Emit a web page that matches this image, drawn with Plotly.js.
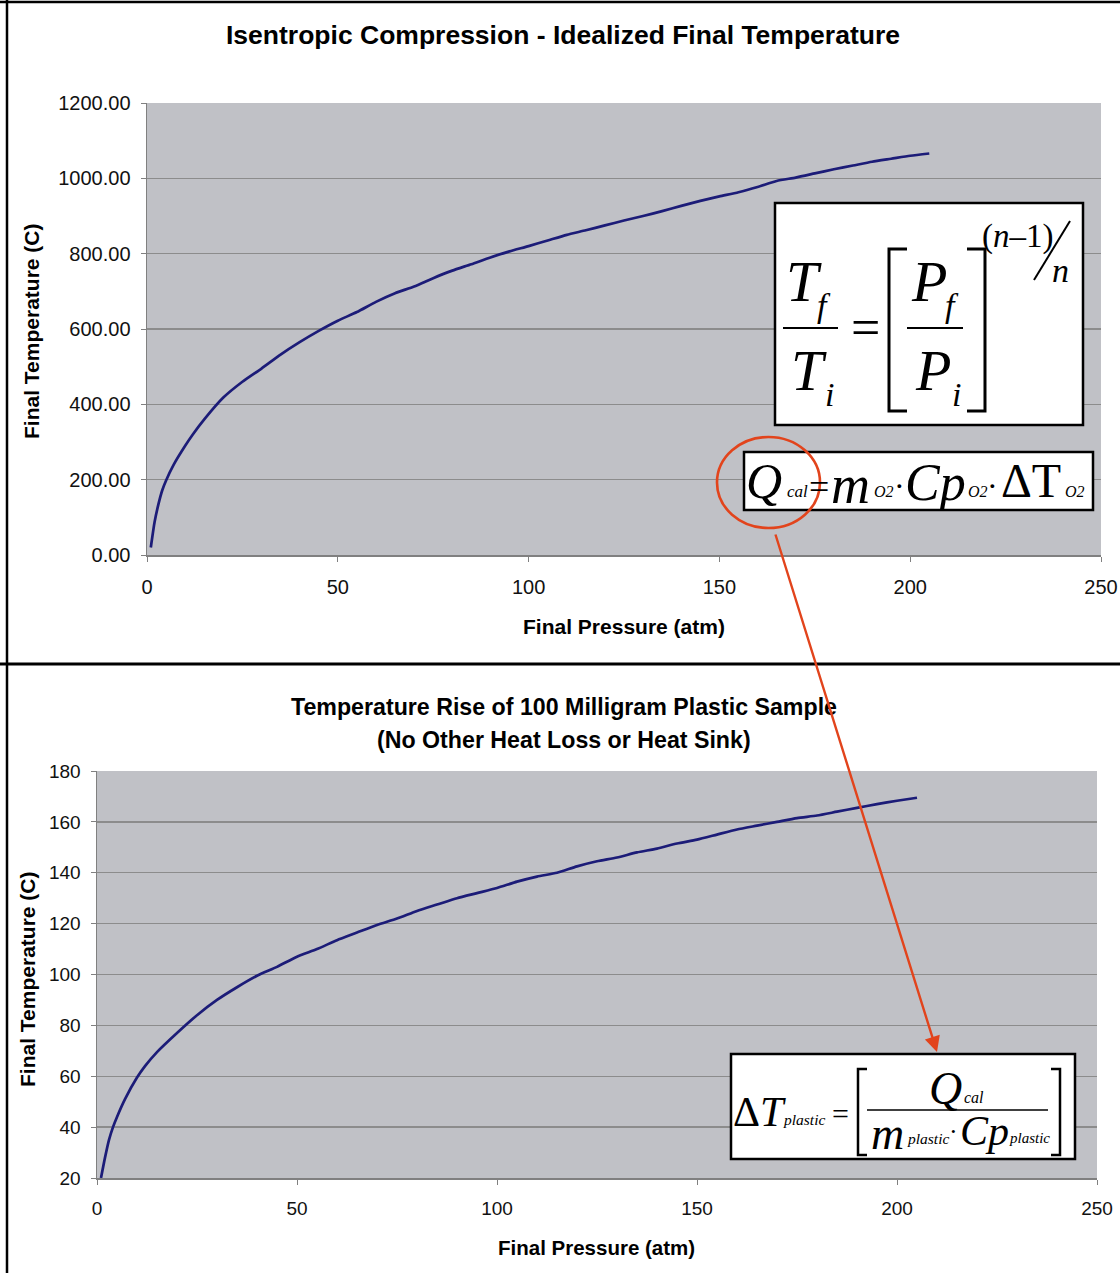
<!DOCTYPE html>
<html>
<head>
<meta charset="utf-8">
<script src="https://cdn.plot.ly/plotly-3.0.1.min.js"></script>
<style>html,body{margin:0;padding:0;background:#fff}#chart{width:1120px;height:1273px}</style>
</head>
<body>
<div id="chart"></div>
<script>
// ---- data ----
const topPressure = [1,2,3,4,5,7,10,12,15,20,25,30,35,40,45,50,55,60,65,70,75,80,85,90,95,100,105,110,115,120,125,130,135,140,145,150,155,160,165,170,175,180,185,190,195,200,205];
const topTemp     = [20,88,135,172,198,240,290,320,360,418,460,495,532,565,595,622,645,672,695,713,735,755,772,790,806,820,835,850,862,875,888,900,913,927,940,952,963,977,993,1002,1013,1024,1034,1044,1052,1060,1066];
const botPressure = [1,2,3,4,5,7,10,12,15,20,25,30,35,40,45,50,55,60,65,70,75,80,85,90,95,100,105,110,115,120,125,130,135,140,145,150,155,160,165,170,175,180,185,190,195,200,205];
const botTemp     = [20,28,35,40,44,51,59.5,64,69.5,77,84,90,95,99.5,103,107,110,113.5,116.5,119.5,122,125,127.5,130,132,134,136.5,138.5,140,142.5,144.5,146,148,149.5,151.5,153,155,157,158.5,160,161.5,162.5,164,165.5,167,168.3,169.5];
const topYTicks = [0,200,400,600,800,1000,1200];
const botYTicks = [20,40,60,80,100,120,140,160,180];
const xTicks = [0,50,100,150,200,250];
const topTitle = "Isentropic Compression - Idealized Final Temperature";
const botTitle1 = "Temperature Rise of 100 Milligram Plastic Sample";
const botTitle2 = "(No Other Heat Loss or Heat Sink)";
const xTitle = "Final Pressure (atm)";
const yTitle = "Final Temperature (C)";

// ---- layout helpers ----
const W = 1120, H = 1273;
const fx = x => x / W;
const fy = y => 1 - y / H;
const SANS = "Liberation Sans, Arial, sans-serif";
const SERIF = "Liberation Serif, Times New Roman, serif";
const navy = "#1c1c78";
const red = "#e2441c";

const traces = [
  {x: topPressure, y: topTemp, type: "scatter", mode: "lines", line: {color: navy, width: 2.7, shape: "spline", smoothing: 0.6}, xaxis: "x", yaxis: "y", hoverinfo: "skip", showlegend: false},
  {x: botPressure, y: botTemp, type: "scatter", mode: "lines", line: {color: navy, width: 2.7, shape: "spline", smoothing: 0.6}, xaxis: "x2", yaxis: "y2", hoverinfo: "skip", showlegend: false}
];

function axisX(domain, anchor, fs) {
  return {domain: domain, anchor: anchor, range: [0, 250], tickvals: xTicks, ticktext: xTicks.map(String),
    ticks: "outside", ticklen: 5, tickcolor: "#808080", showline: true, linecolor: "#808080", linewidth: 1.5,
    showgrid: false, zeroline: false, fixedrange: true, ticklabelstandoff: 8,
    tickfont: {family: SANS, size: fs, color: "#111"}};
}
function axisY(domain, anchor, range, vals, fmt, fs) {
  return {domain: domain, anchor: anchor, range: range, tickvals: vals, tickformat: fmt,
    ticks: "outside", ticklen: 5, tickcolor: "#808080", showline: true, linecolor: "#808080", linewidth: 1.5,
    showgrid: true, gridcolor: "#8c8c8c", gridwidth: 1.4, zeroline: false, fixedrange: true, ticklabelstandoff: 6,
    tickfont: {family: SANS, size: fs, color: "#111"}};
}

const annotations = [];
function txt(text, x, y, size, opts) {
  opts = opts || {};
  annotations.push(Object.assign({
    text: text, x: fx(x), y: fy(y), xref: "paper", yref: "paper", showarrow: false,
    xanchor: "center", yanchor: "middle",
    font: {family: opts.family || SERIF, size: size, color: "#000", weight: opts.weight || 400, style: opts.italic ? "italic" : "normal"}
  }, opts.extra || {}));
}

// titles
txt(topTitle, 563, 35, 26.5, {family: SANS, weight: 700});
txt(xTitle, 624, 626, 21, {family: SANS, weight: 700});
txt(yTitle, 31, 332, 21, {family: SANS, weight: 700, extra: {textangle: -90}});
txt(botTitle1, 564, 707, 23.2, {family: SANS, weight: 700});
txt(botTitle2, 564, 740, 23.2, {family: SANS, weight: 700});
txt(xTitle, 596, 1247, 20.5, {family: SANS, weight: 700});
txt(yTitle, 27, 980, 21, {family: SANS, weight: 700, extra: {textangle: -90}});

const shapes = [];
function rect(x0, y0, x1, y1) {
  shapes.push({type: "rect", xref: "paper", yref: "paper", x0: fx(x0), x1: fx(x1), y0: fy(y1), y1: fy(y0),
    fillcolor: "#ffffff", line: {color: "#000", width: 2.5}, layer: "above"});
}
function line(x0, y0, x1, y1, w, c) {
  shapes.push({type: "line", xref: "paper", yref: "paper", x0: fx(x0), x1: fx(x1), y0: fy(y0), y1: fy(y1),
    line: {color: c || "#000", width: w || 2}, layer: "above"});
}
function path(pts, w) {
  const d = pts.map((p, i) => (i ? "L" : "M") + fx(p[0]).toFixed(5) + "," + fy(p[1]).toFixed(5)).join(" ");
  shapes.push({type: "path", xref: "paper", yref: "paper", path: d, line: {color: "#000", width: w || 2.5}, layer: "above"});
}

// frame lines
line(7, 0, 7, H, 2.5);
line(0, 2, W, 2, 2.5);
line(0, 664, W, 664, 3);

// formula box 1: Tf/Ti = [Pf/Pi]^((n-1)/n)
rect(775, 203, 1083, 425);
txt("T", 804, 281, 58, {italic: true});
txt("f", 824, 306, 34, {italic: true});
line(783, 328, 838, 328, 2);
txt("T", 809, 371, 58, {italic: true});
txt("i", 829, 394, 34, {italic: true});
txt("=", 865, 328, 52);
path([[907, 249], [889, 249], [889, 411], [907, 411]], 3);
path([[967, 249], [985, 249], [985, 411], [967, 411]], 3);
txt("P", 929, 281, 58, {italic: true});
txt("f", 952, 305, 34, {italic: true});
line(907, 328, 963, 328, 2);
txt("P", 933, 371, 58, {italic: true});
txt("i", 956, 394, 34, {italic: true});
txt("(<i>n</i>\u20131)", 1018, 236, 33);
line(1034, 280, 1070, 221, 2);
txt("n", 1060, 270, 34, {italic: true});

// formula box 2: Qcal = mO2·CpO2·ΔTO2
rect(744, 452, 1093, 510);
txt("Q", 764, 481, 50, {italic: true});
txt("cal", 797, 492, 17, {italic: true});
txt("=", 819, 487, 36);
txt("m", 850, 485, 54, {italic: true});
txt("O2", 884, 492, 16, {italic: true});
txt("\u00b7", 899, 486, 32);
txt("Cp", 935, 483, 52, {italic: true});
txt("O2", 978, 492, 16, {italic: true});
txt("\u00b7", 992, 486, 32);
txt("\u0394T", 1031, 480, 48);
txt("O2", 1075, 492, 16, {italic: true});

// red ellipse and arrow
shapes.push({type: "circle", xref: "paper", yref: "paper", x0: fx(717), x1: fx(820), y0: fy(528), y1: fy(437),
  line: {color: red, width: 2.6}, layer: "above"});
annotations.push({x: fx(937), y: fy(1052), xref: "paper", yref: "paper", ax: 775 - 937, ay: 533 - 1052,
  axref: "pixel", ayref: "pixel", showarrow: true, arrowhead: 2, arrowsize: 1.3, arrowwidth: 2.4, arrowcolor: red, text: ""});

// formula box 3: ΔTplastic = [ Qcal / (mplastic·Cpplastic) ]
rect(731, 1054, 1075, 1159);
txt("\u0394<i>T</i>", 759, 1112, 42);
txt("plastic", 804, 1119, 15.5, {italic: true});
txt("=", 840, 1113, 30);
path([[867, 1069], [858, 1069], [858, 1155], [867, 1155]], 2.5);
path([[1051, 1069], [1060, 1069], [1060, 1155], [1051, 1155]], 2.5);
txt("Q", 945, 1088, 46, {italic: true});
txt("cal", 974, 1097, 16, {italic: true});
line(867, 1110, 1048, 1110, 1.6);
txt("m", 887, 1133, 46, {italic: true});
txt("plastic", 928, 1138, 15.5, {italic: true});
txt("\u00b7", 953, 1131, 26);
txt("Cp", 984, 1131, 42, {italic: true});
txt("plastic", 1029, 1138, 15, {italic: true});

const layout = {
  width: W, height: H, autosize: false,
  margin: {l: 0, r: 0, t: 0, b: 0, pad: 0},
  paper_bgcolor: "#ffffff", plot_bgcolor: "#c0c1c6",
  showlegend: false,
  xaxis: axisX([fx(147), fx(1101)], "y", 20),
  yaxis: axisY([fy(555), fy(103)], "x", [0, 1200], topYTicks, ".2f", 20),
  xaxis2: axisX([fx(97), fx(1097)], "y2", 19),
  yaxis2: axisY([fy(1178), fy(771)], "x2", [20, 180], botYTicks, "d", 19),
  annotations: annotations,
  shapes: shapes
};

Plotly.newPlot("chart", traces, layout, {staticPlot: true, displayModeBar: false});
</script>
</body>
</html>
